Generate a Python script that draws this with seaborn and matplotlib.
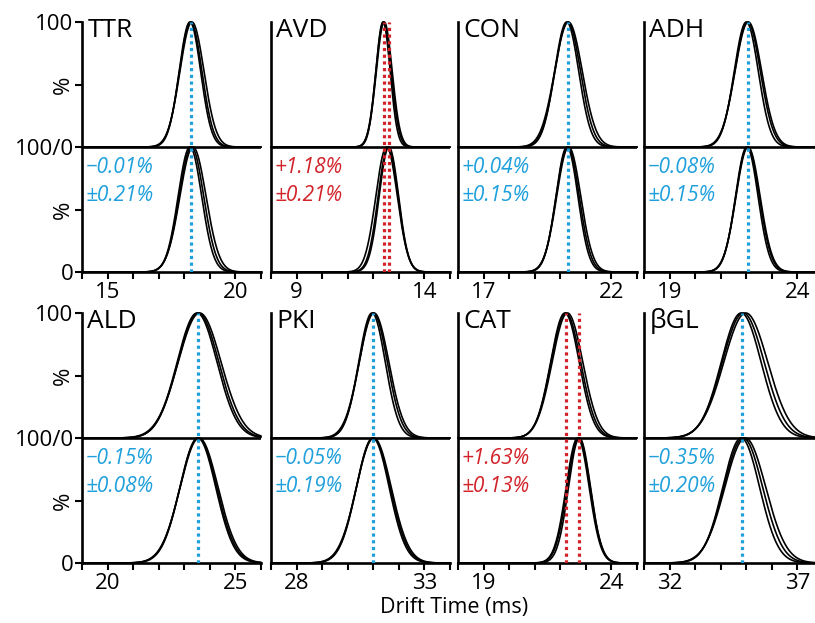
import numpy as np
import pandas as pd
import matplotlib
matplotlib.use("Agg")
import matplotlib.pyplot as plt
import seaborn as sns

# panel names and the first x value of each 7 ms window
names = ["TTR", "AVD", "CON", "ADH", "ALD", "PKI", "CAT", "βGL"]
x_starts = [14, 8, 16, 18, 19, 27, 18, 31]

# peak centres / widths (ms) of the three replicate traces, upper and lower half
top_means = [[18.22, 18.25, 18.30], [12.38, 12.40, 12.43], [20.25, 20.29, 20.32],
             [22.00, 22.05, 22.08], [23.50, 23.55, 23.60], [30.95, 31.00, 31.03],
             [22.18, 22.22, 22.28], [34.80, 34.88, 34.98]]
top_sigmas = [[0.42, 0.44, 0.47], [0.28, 0.30, 0.31], [0.47, 0.50, 0.54],
              [0.47, 0.50, 0.52], [0.78, 0.80, 0.84], [0.52, 0.55, 0.58],
              [0.56, 0.58, 0.60], [0.78, 0.82, 0.86]]
bot_means = [[18.22, 18.28, 18.34], [12.52, 12.58, 12.61], [20.26, 20.29, 20.33],
             [22.02, 22.05, 22.07], [23.53, 23.55, 23.58], [30.98, 31.00, 31.02],
             [22.68, 22.72, 22.75], [34.80, 34.88, 34.96]]
bot_sigmas = [[0.46, 0.48, 0.51], [0.42, 0.39, 0.38], [0.43, 0.45, 0.47],
              [0.44, 0.46, 0.47], [0.70, 0.72, 0.74], [0.64, 0.66, 0.68],
              [0.45, 0.45, 0.43], [0.72, 0.76, 0.80]]

# dotted reference lines (upper / lower mean drift time)
line_top = [18.25, 12.40, 20.29, 22.05, 23.55, 31.00, 22.22, 34.85]
line_bot = [18.25, 12.62, 20.29, 22.05, 23.55, 31.00, 22.75, 34.85]

shift_text = ["\u22120.01%", "+1.18%", "+0.04%", "\u22120.08%",
              "\u22120.15%", "\u22120.05%", "+1.63%", "\u22120.35%"]
spread_text = ["±0.21%", "±0.21%", "±0.15%", "±0.15%",
               "±0.08%", "±0.19%", "±0.13%", "±0.20%"]
significant = [False, True, False, False, False, False, True, False]

BLUE = "#1FA0DC"
RED = "#D2232A"

sns.set_theme(style="white", rc={
    "axes.edgecolor": "black", "xtick.color": "black", "ytick.color": "black",
    "text.color": "black", "axes.labelcolor": "black",
    "xtick.bottom": True, "ytick.left": True,
})
plt.rcParams["font.family"] = ["Open Sans", "DejaVu Sans"]

W, H = 815, 623
fig = plt.figure(figsize=(W / 100, H / 100), dpi=100)

lefts = [82, 271, 458, 644]
tops = [22, 313]
panel_w, panel_h = 179, 250

for i, name in enumerate(names):
    row, col = divmod(i, 4)
    lo = x_starts[i]
    ax = fig.add_axes([lefts[col] / W, (H - tops[row] - panel_h) / H,
                       panel_w / W, panel_h / H])

    xs = np.linspace(lo, lo + 7, 500)
    rows = []
    for k in range(3):
        y_top = 100 + 100 * np.exp(-0.5 * ((xs - top_means[i][k]) / top_sigmas[i][k]) ** 2)
        y_bot = 100 * np.exp(-0.5 * ((xs - bot_means[i][k]) / bot_sigmas[i][k]) ** 2)
        rows.append(pd.DataFrame({"x": xs, "y": y_top, "trace": f"t{k}"}))
        rows.append(pd.DataFrame({"x": xs, "y": y_bot, "trace": f"b{k}"}))
    df = pd.concat(rows, ignore_index=True)

    ax.axhline(100, color="black", lw=1.9, zorder=1)
    sns.lineplot(data=df, x="x", y="y", units="trace", estimator=None,
                 color="black", lw=1.2, sort=False, ax=ax, clip_on=False, zorder=3)

    c = RED if significant[i] else BLUE
    for xv in sorted(set([line_top[i], line_bot[i]])):
        ax.axvline(xv, color=c, lw=2.3, ls=(0, (1, 1.1)), zorder=4)

    ax.set_xlim(lo, lo + 7)
    ax.set_ylim(0, 200)
    ax.set_xlabel("")
    ax.set_ylabel("")
    ticks = list(range(lo, lo + 8))
    ax.set_xticks(ticks)
    ax.set_xticklabels([str(t) if t in (lo + 1, lo + 6) else "" for t in ticks])
    ax.tick_params(axis="x", direction="out", length=5, width=1.5,
                   labelsize=16, pad=2)

    if col == 0:
        ax.set_yticks([0, 50, 100, 150, 200])
        ax.set_yticklabels(["0", "%", "100/0", "%", "100"])
        ax.tick_params(axis="y", direction="out", length=5, width=1.5,
                       labelsize=16, pad=1)
        for lab in ax.get_yticklabels():
            if lab.get_text() == "%":
                lab.set_rotation(90)
                lab.set_va("center")
    else:
        ax.set_yticks([])

    for s in ["top", "right"]:
        ax.spines[s].set_visible(False)
    for s in ["left", "bottom"]:
        ax.spines[s].set_linewidth(1.9)
        ax.spines[s].set_color("black")

    ax.text(0.03, 0.94, name, transform=ax.transAxes, fontsize=19,
            ha="left", va="baseline")
    ax.text(0.02, 0.395, shift_text[i], transform=ax.transAxes, fontsize=15,
            style="italic", color=c, ha="left", va="baseline")
    ax.text(0.02, 0.285, spread_text[i], transform=ax.transAxes, fontsize=15,
            style="italic", color=c, ha="left", va="baseline")

fig.text(454 / W, 1 - 608 / H, "Drift Time (ms)", ha="center", va="center",
         fontsize=15.5)

fig.savefig("out.png", dpi=100)
